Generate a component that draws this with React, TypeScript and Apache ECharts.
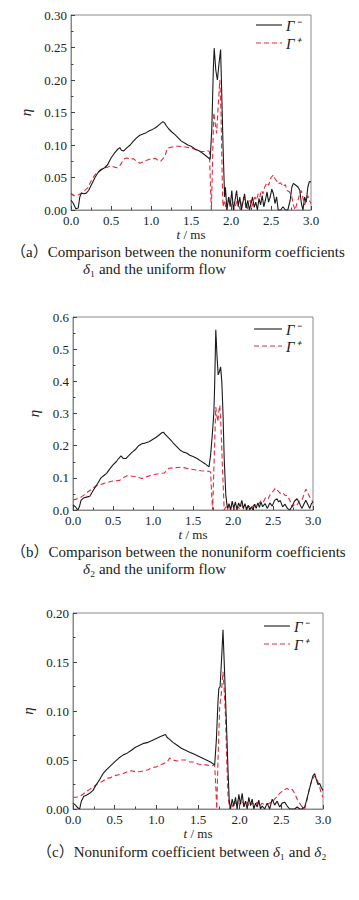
import React, { useEffect, useRef } from 'react';
import * as echarts from 'echarts';

const xTicks = [0, 0.5, 1.0, 1.5, 2.0, 2.5, 3.0];
const yTicksA = [0, 0.05, 0.1, 0.15, 0.2, 0.25, 0.3];
const yTicksB = [0, 0.1, 0.2, 0.3, 0.4, 0.5, 0.6];
const yTicksC = [0, 0.05, 0.1, 0.15, 0.2];
const yDecimals = [2, 1, 2];

const seriesNames = ['Γ⁻', 'Γ⁺'];

const captionLines = [
  '（a）Comparison between the nonuniform coefficients',
  '{d|δ}₁ and the uniform flow',
  '（b）Comparison between the nonuniform coefficients',
  '{d|δ}₂ and the uniform flow',
  '（c）Nonuniform coefficient between {d|δ}₁ and {d|δ}₂',
];

type P = [number, number];

const aMinus: P[] = [
  [0.00, 0.015], [0.03, 0.010], [0.06, 0.002], [0.09, 0.003], [0.11, 0.020], [0.13, 0.026], [0.16, 0.025], [0.19, 0.026],
  [0.22, 0.030], [0.26, 0.040], [0.30, 0.050], [0.34, 0.058], [0.38, 0.062], [0.42, 0.065], [0.46, 0.070], [0.50, 0.080],
  [0.54, 0.087], [0.58, 0.093], [0.61, 0.096], [0.63, 0.092], [0.66, 0.091], [0.70, 0.096], [0.74, 0.100], [0.78, 0.106],
  [0.82, 0.111], [0.86, 0.115], [0.90, 0.117], [0.94, 0.119], [0.98, 0.122], [1.02, 0.124], [1.06, 0.127], [1.10, 0.131],
  [1.13, 0.134], [1.15, 0.136], [1.17, 0.134], [1.19, 0.130], [1.22, 0.125], [1.26, 0.120], [1.30, 0.116], [1.34, 0.111],
  [1.38, 0.106], [1.42, 0.103], [1.46, 0.100], [1.50, 0.098], [1.55, 0.094], [1.60, 0.091], [1.65, 0.087], [1.70, 0.082],
  [1.74, 0.078], [1.76, 0.125], [1.78, 0.220], [1.79, 0.249], [1.81, 0.215], [1.83, 0.200], [1.85, 0.225], [1.87, 0.247],
  [1.88, 0.200], [1.90, 0.100], [1.92, 0.020], [1.93, 0.035], [1.95, 0.000], [1.97, 0.020], [1.99, 0.005], [2.01, 0.030],
  [2.03, 0.000], [2.05, 0.015], [2.07, 0.030], [2.09, 0.005], [2.11, 0.020], [2.13, 0.000], [2.15, 0.012], [2.17, 0.025],
  [2.19, 0.003], [2.21, 0.015], [2.23, 0.000], [2.25, 0.010], [2.27, 0.020], [2.29, 0.004], [2.31, 0.012], [2.33, 0.000],
  [2.35, 0.018], [2.37, 0.008], [2.39, 0.022], [2.41, 0.005], [2.43, 0.015], [2.45, 0.028], [2.47, 0.012], [2.49, 0.020],
  [2.51, 0.032], [2.53, 0.025], [2.55, 0.010], [2.57, 0.020], [2.59, 0.000], [2.62, 0.000], [2.65, 0.005], [2.68, 0.000],
  [2.71, 0.000], [2.74, 0.015], [2.76, 0.035], [2.78, 0.041], [2.81, 0.038], [2.84, 0.035], [2.86, 0.030], [2.88, 0.010],
  [2.90, 0.000], [2.92, 0.020], [2.94, 0.012], [2.96, 0.035], [2.98, 0.044], [3.00, 0.043],
];

const aPlus: P[] = [
  [0.00, 0.026], [0.03, 0.022], [0.06, 0.022], [0.09, 0.023], [0.12, 0.025], [0.15, 0.028], [0.18, 0.031], [0.21, 0.034],
  [0.24, 0.042], [0.27, 0.049], [0.30, 0.054], [0.34, 0.059], [0.38, 0.063], [0.42, 0.065], [0.46, 0.066], [0.50, 0.068],
  [0.54, 0.066], [0.58, 0.065], [0.61, 0.068], [0.64, 0.074], [0.67, 0.079], [0.70, 0.080], [0.74, 0.078], [0.78, 0.079],
  [0.82, 0.075], [0.86, 0.072], [0.90, 0.074], [0.94, 0.076], [0.98, 0.078], [1.02, 0.079], [1.06, 0.079], [1.09, 0.076],
  [1.12, 0.075], [1.15, 0.079], [1.18, 0.085], [1.20, 0.094], [1.23, 0.096], [1.27, 0.097], [1.31, 0.098], [1.35, 0.098],
  [1.39, 0.097], [1.43, 0.097], [1.47, 0.096], [1.51, 0.095], [1.55, 0.093], [1.59, 0.091], [1.63, 0.090], [1.67, 0.090],
  [1.71, 0.091], [1.73, 0.090], [1.745, 0.030], [1.755, 0.000], [1.77, 0.080], [1.785, 0.150], [1.80, 0.135], [1.82, 0.118],
  [1.84, 0.160], [1.86, 0.200], [1.875, 0.150], [1.89, 0.050], [1.90, 0.005], [1.92, 0.015], [1.94, 0.000], [1.96, 0.010],
  [1.98, 0.020], [2.00, 0.005], [2.02, 0.012], [2.04, 0.000], [2.06, 0.008], [2.08, 0.018], [2.10, 0.005], [2.12, 0.000],
  [2.14, 0.012], [2.16, 0.020], [2.18, 0.008], [2.20, 0.000], [2.22, 0.010], [2.24, 0.015], [2.26, 0.005], [2.28, 0.012],
  [2.30, 0.020], [2.32, 0.015], [2.34, 0.025], [2.36, 0.020], [2.38, 0.030], [2.40, 0.025], [2.42, 0.035], [2.45, 0.042],
  [2.47, 0.038], [2.50, 0.050], [2.53, 0.054], [2.55, 0.048], [2.57, 0.045], [2.59, 0.040], [2.62, 0.042], [2.65, 0.036],
  [2.68, 0.039], [2.70, 0.030], [2.73, 0.028], [2.76, 0.020], [2.78, 0.008], [2.80, 0.000], [2.83, 0.012], [2.86, 0.025],
  [2.88, 0.030], [2.90, 0.018], [2.92, 0.008], [2.94, 0.015], [2.96, 0.022], [2.98, 0.015], [3.00, 0.010],
];

const bMinus: P[] = [
  [0.00, 0.016], [0.03, 0.010], [0.06, 0.000], [0.08, 0.010], [0.10, 0.030], [0.13, 0.037], [0.17, 0.040], [0.21, 0.043],
  [0.25, 0.060], [0.28, 0.072], [0.31, 0.083], [0.35, 0.100], [0.39, 0.108], [0.42, 0.114], [0.46, 0.128], [0.50, 0.140],
  [0.54, 0.150], [0.57, 0.160], [0.60, 0.168], [0.63, 0.160], [0.66, 0.160], [0.70, 0.170], [0.74, 0.180], [0.78, 0.188],
  [0.82, 0.200], [0.86, 0.206], [0.90, 0.208], [0.95, 0.212], [1.00, 0.220], [1.04, 0.226], [1.08, 0.234], [1.11, 0.240],
  [1.13, 0.242], [1.15, 0.236], [1.18, 0.228], [1.22, 0.218], [1.26, 0.206], [1.30, 0.196], [1.34, 0.186], [1.38, 0.180],
  [1.42, 0.177], [1.46, 0.170], [1.50, 0.166], [1.55, 0.160], [1.60, 0.152], [1.65, 0.144], [1.70, 0.134], [1.72, 0.170],
  [1.74, 0.230], [1.76, 0.300], [1.77, 0.380], [1.785, 0.560], [1.80, 0.480], [1.815, 0.420], [1.83, 0.430], [1.845, 0.445],
  [1.86, 0.400], [1.875, 0.300], [1.89, 0.160], [1.91, 0.047], [1.93, 0.005], [1.95, 0.020], [1.97, 0.000], [1.99, 0.028],
  [2.01, 0.005], [2.03, 0.025], [2.05, 0.000], [2.07, 0.022], [2.09, 0.010], [2.11, 0.030], [2.13, 0.005], [2.15, 0.020],
  [2.17, 0.000], [2.19, 0.015], [2.21, 0.000], [2.23, 0.010], [2.25, 0.000], [2.27, 0.018], [2.29, 0.005], [2.31, 0.022],
  [2.33, 0.008], [2.35, 0.025], [2.37, 0.010], [2.40, 0.020], [2.43, 0.005], [2.46, 0.022], [2.49, 0.012], [2.52, 0.030],
  [2.55, 0.035], [2.57, 0.025], [2.59, 0.030], [2.62, 0.010], [2.65, 0.018], [2.68, 0.005], [2.71, 0.000], [2.74, 0.012],
  [2.77, 0.028], [2.80, 0.035], [2.83, 0.022], [2.86, 0.005], [2.89, 0.020], [2.91, 0.030], [2.94, 0.015], [2.96, 0.005],
  [2.98, 0.020], [3.00, 0.025],
];

const bPlus: P[] = [
  [0.00, 0.031], [0.03, 0.033], [0.06, 0.036], [0.10, 0.040], [0.14, 0.047], [0.18, 0.055], [0.22, 0.062], [0.26, 0.070],
  [0.30, 0.076], [0.34, 0.079], [0.38, 0.082], [0.42, 0.085], [0.46, 0.088], [0.50, 0.090], [0.54, 0.091], [0.58, 0.092],
  [0.61, 0.096], [0.64, 0.102], [0.67, 0.106], [0.70, 0.107], [0.74, 0.105], [0.78, 0.104], [0.82, 0.101], [0.86, 0.098],
  [0.90, 0.102], [0.95, 0.106], [1.00, 0.109], [1.05, 0.112], [1.10, 0.114], [1.14, 0.115], [1.17, 0.122], [1.20, 0.130],
  [1.25, 0.131], [1.30, 0.132], [1.35, 0.133], [1.40, 0.131], [1.45, 0.128], [1.50, 0.126], [1.55, 0.124], [1.60, 0.122],
  [1.65, 0.121], [1.70, 0.120], [1.72, 0.118], [1.735, 0.040], [1.745, 0.000], [1.76, 0.120], [1.775, 0.240], [1.785, 0.320],
  [1.80, 0.290], [1.81, 0.275], [1.825, 0.310], [1.835, 0.326], [1.85, 0.260], [1.87, 0.120], [1.89, 0.000], [1.91, 0.010],
  [1.93, 0.000], [1.95, 0.015], [1.97, 0.005], [1.99, 0.020], [2.02, 0.000], [2.05, 0.012], [2.08, 0.005], [2.11, 0.015],
  [2.14, 0.000], [2.17, 0.008], [2.20, 0.012], [2.23, 0.005], [2.26, 0.015], [2.29, 0.020], [2.32, 0.018], [2.35, 0.030],
  [2.38, 0.025], [2.41, 0.040], [2.44, 0.035], [2.47, 0.050], [2.50, 0.058], [2.53, 0.068], [2.56, 0.060], [2.59, 0.052],
  [2.62, 0.055], [2.65, 0.045], [2.68, 0.046], [2.71, 0.030], [2.74, 0.010], [2.77, 0.018], [2.80, 0.015], [2.83, 0.028],
  [2.86, 0.030], [2.89, 0.050], [2.91, 0.065], [2.93, 0.055], [2.95, 0.045], [2.97, 0.035], [3.00, 0.025],
];

const cMinus: P[] = [
  [0.00, 0.006], [0.03, 0.004], [0.06, 0.001], [0.08, 0.000], [0.10, 0.008], [0.13, 0.013], [0.16, 0.014], [0.20, 0.016],
  [0.24, 0.019], [0.28, 0.025], [0.32, 0.030], [0.36, 0.036], [0.40, 0.040], [0.45, 0.044], [0.50, 0.048], [0.55, 0.052],
  [0.60, 0.055], [0.65, 0.057], [0.70, 0.060], [0.75, 0.063], [0.80, 0.065], [0.85, 0.067], [0.90, 0.068], [0.95, 0.070],
  [1.00, 0.072], [1.05, 0.074], [1.08, 0.075], [1.11, 0.076], [1.13, 0.073], [1.16, 0.071], [1.20, 0.068], [1.25, 0.065],
  [1.30, 0.062], [1.35, 0.060], [1.40, 0.058], [1.45, 0.056], [1.50, 0.054], [1.55, 0.052], [1.60, 0.050], [1.65, 0.048],
  [1.70, 0.045], [1.72, 0.070], [1.74, 0.110], [1.75, 0.123], [1.765, 0.125], [1.775, 0.140], [1.79, 0.165], [1.80, 0.183],
  [1.81, 0.160], [1.825, 0.125], [1.84, 0.090], [1.86, 0.040], [1.875, 0.008], [1.89, 0.000], [1.91, 0.010], [1.93, 0.003],
  [1.95, 0.012], [1.97, 0.000], [1.99, 0.015], [2.01, 0.005], [2.03, 0.016], [2.05, 0.002], [2.07, 0.008], [2.09, 0.000],
  [2.11, 0.012], [2.13, 0.004], [2.15, 0.010], [2.17, 0.000], [2.19, 0.006], [2.21, 0.002], [2.23, 0.009], [2.25, 0.000],
  [2.27, 0.003], [2.30, 0.000], [2.33, 0.006], [2.36, 0.000], [2.39, 0.010], [2.42, 0.004], [2.45, 0.008], [2.48, 0.002],
  [2.51, 0.006], [2.54, 0.007], [2.57, 0.003], [2.60, 0.000], [2.63, 0.000], [2.66, 0.000], [2.69, 0.002], [2.72, 0.000],
  [2.75, 0.000], [2.78, 0.002], [2.80, 0.008], [2.83, 0.018], [2.86, 0.028], [2.88, 0.034], [2.90, 0.036], [2.92, 0.030],
  [2.94, 0.025], [2.96, 0.026], [2.98, 0.022], [3.00, 0.019],
];

const cPlus: P[] = [
  [0.00, 0.012], [0.04, 0.012], [0.08, 0.013], [0.12, 0.015], [0.16, 0.018], [0.20, 0.020], [0.25, 0.023], [0.30, 0.026],
  [0.35, 0.028], [0.40, 0.031], [0.45, 0.032], [0.50, 0.034], [0.55, 0.035], [0.60, 0.036], [0.65, 0.038], [0.70, 0.039],
  [0.75, 0.038], [0.80, 0.038], [0.85, 0.039], [0.90, 0.040], [0.95, 0.042], [1.00, 0.043], [1.05, 0.045], [1.10, 0.047],
  [1.13, 0.048], [1.16, 0.052], [1.20, 0.050], [1.25, 0.049], [1.30, 0.050], [1.35, 0.050], [1.40, 0.048], [1.45, 0.048],
  [1.50, 0.046], [1.55, 0.045], [1.60, 0.045], [1.65, 0.044], [1.70, 0.045], [1.715, 0.020], [1.725, 0.000], [1.74, 0.050],
  [1.76, 0.104], [1.78, 0.118], [1.80, 0.140], [1.815, 0.120], [1.83, 0.095], [1.845, 0.050], [1.86, 0.014], [1.88, 0.000],
  [1.90, 0.006], [1.92, 0.002], [1.94, 0.008], [1.96, 0.003], [1.98, 0.009], [2.00, 0.004], [2.03, 0.008], [2.06, 0.003],
  [2.09, 0.007], [2.12, 0.002], [2.15, 0.006], [2.18, 0.004], [2.21, 0.007], [2.24, 0.003], [2.27, 0.006], [2.30, 0.004],
  [2.33, 0.005], [2.36, 0.006], [2.39, 0.007], [2.42, 0.010], [2.45, 0.013], [2.48, 0.016], [2.51, 0.018], [2.54, 0.020],
  [2.57, 0.021], [2.60, 0.019], [2.63, 0.020], [2.66, 0.016], [2.69, 0.010], [2.72, 0.006], [2.75, 0.002], [2.78, 0.000],
  [2.81, 0.010], [2.84, 0.022], [2.87, 0.030], [2.90, 0.034], [2.93, 0.030], [2.96, 0.022], [2.98, 0.016], [3.00, 0.012],
];

const SERIF = "'Liberation Serif', 'Times New Roman', 'Noto Sans CJK SC', serif";
const BLACK = '#1a1a1a';
const RED = '#e8283c';
const FRAME = '#8a8a8a';
const DASH = [5, 3];

export default function App() {
  const ref = useRef<HTMLDivElement>(null);

  useEffect(() => {
    if (!ref.current) return;
    const chart = echarts.init(ref.current, undefined, { renderer: 'svg' });

    const panels = [
      { grid: { left: 71, top: 15, width: 240, height: 195 }, yTicks: yTicksA, minus: aMinus, plus: aPlus, yGap: 32, xGap: 15, leg: { x: 256, y: 25, w: 26, dy: 18 } },
      { grid: { left: 73, top: 317, width: 240, height: 193 }, yTicks: yTicksB, minus: bMinus, plus: bPlus, yGap: 27, xGap: 17, leg: { x: 254, y: 329, w: 28, dy: 17 } },
      { grid: { left: 73, top: 613, width: 250, height: 196 }, yTicks: yTicksC, minus: cMinus, plus: cPlus, yGap: 32, xGap: 17, leg: { x: 264, y: 626, w: 26, dy: 18 } },
    ];

    const labelStyle = { fontFamily: SERIF, fontSize: 13, color: '#222' };

    const legendGraphics = panels.flatMap((p) => {
      const { x, y, w, dy } = p.leg;
      return [
        { type: 'line', shape: { x1: x, y1: y, x2: x + w, y2: y }, style: { stroke: BLACK, lineWidth: 1.1 }, z: 10 },
        { type: 'line', shape: { x1: x, y1: y + dy, x2: x + w, y2: y + dy }, style: { stroke: RED, lineWidth: 1.1, lineDash: DASH }, z: 10 },
        { type: 'text', x: x + w + 4, y: y + 1, style: { text: seriesNames[0], fontFamily: SERIF, fontSize: 15, fontStyle: 'italic', fill: '#1a1a1a', align: 'left', verticalAlign: 'middle' }, z: 10 },
        { type: 'text', x: x + w + 4, y: y + dy + 1, style: { text: seriesNames[1], fontFamily: SERIF, fontSize: 15, fontStyle: 'italic', fill: '#1a1a1a', align: 'left', verticalAlign: 'middle' }, z: 10 },
      ];
    });

    const captionGraphics = [
      { pos: [11, 251.5], text: captionLines[0] },
      { pos: [83, 268.5], text: captionLines[1] },
      { pos: [11, 551.5], text: captionLines[2] },
      { pos: [83, 568.5], text: captionLines[3] },
      { pos: [37, 852], text: captionLines[4] },
    ].map((c) => ({
      type: 'text',
      x: c.pos[0],
      y: c.pos[1],
      style: {
        text: c.text,
        fontFamily: SERIF,
        fontSize: 15,
        fill: '#1a1a1a',
        align: 'left',
        verticalAlign: 'middle',
        rich: { d: { fontFamily: SERIF, fontSize: 15, fontStyle: 'italic', fill: '#1a1a1a' } },
      },
    }));

    const option: any = {
      animation: false,
      backgroundColor: '#fff',
      grid: panels.map((p) => ({ ...p.grid, show: true, borderColor: FRAME, borderWidth: 1, backgroundColor: 'transparent', containLabel: false })),
      xAxis: panels.map((p, i) => ({
        type: 'value',
        gridIndex: i,
        min: xTicks[0],
        max: xTicks[xTicks.length - 1],
        interval: xTicks[1] - xTicks[0],
        name: '{i|t} / ms',
        nameLocation: 'middle',
        nameGap: p.xGap,
        nameTextStyle: { ...labelStyle, rich: { i: { fontFamily: SERIF, fontSize: 13, fontStyle: 'italic', color: '#222' } } },
        axisLine: { show: true, lineStyle: { color: FRAME, width: 1 } },
        axisTick: { show: true, inside: true, length: 4, lineStyle: { color: '#444' } },
        minorTick: { show: true, splitNumber: 2, length: 2.5, lineStyle: { color: '#444' } },
        splitLine: { show: false },
        axisLabel: { ...labelStyle, margin: 4, formatter: (v: number) => v.toFixed(1) },
      })),
      yAxis: panels.map((p, i) => ({
        type: 'value',
        gridIndex: i,
        min: p.yTicks[0],
        max: p.yTicks[p.yTicks.length - 1],
        interval: p.yTicks[1] - p.yTicks[0],
        name: 'η',
        nameLocation: 'middle',
        nameGap: p.yGap,
        nameTextStyle: { fontFamily: SERIF, fontSize: 15, fontStyle: 'italic', color: '#222' },
        axisLine: { show: true, lineStyle: { color: FRAME, width: 1 } },
        axisTick: { show: true, inside: true, length: 4, lineStyle: { color: '#444' } },
        minorTick: { show: true, splitNumber: 2, length: 2.5, lineStyle: { color: '#444' } },
        splitLine: { show: false },
        axisLabel: { ...labelStyle, margin: 4, formatter: (v: number) => v.toFixed(yDecimals[i]) },
      })),
      series: panels.flatMap((p, i) => [
        {
          name: seriesNames[0],
          type: 'line',
          xAxisIndex: i,
          yAxisIndex: i,
          data: p.minus,
          symbol: 'none',
          showSymbol: false,
          lineStyle: { color: BLACK, width: 1.1, type: 'solid' },
          itemStyle: { color: BLACK },
          z: 3,
        },
        {
          name: seriesNames[1],
          type: 'line',
          xAxisIndex: i,
          yAxisIndex: i,
          data: p.plus,
          symbol: 'none',
          showSymbol: false,
          lineStyle: { color: RED, width: 1.1, type: DASH },
          itemStyle: { color: RED },
          z: 2,
        },
      ]),
      graphic: [...legendGraphics, ...captionGraphics],
    };

    chart.setOption(option);
    return () => chart.dispose();
  }, []);

  return <div ref={ref} style={{ position: 'absolute', left: 0, top: 0, width: 359, height: 900, background: '#fff' }} />;
}
